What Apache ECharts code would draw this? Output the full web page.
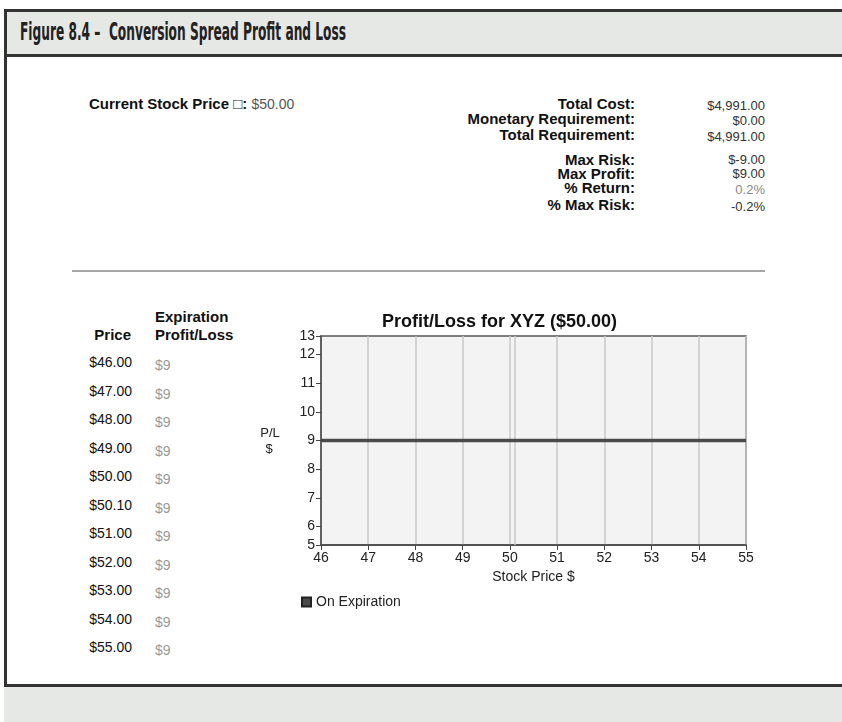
<!DOCTYPE html>
<html>
<head>
<meta charset="utf-8">
<script src="https://cdn.jsdelivr.net/npm/echarts@6/dist/echarts.min.js"></script>
<style>
  html, body { margin: 0; padding: 0; background: #fff; }
  .page { position: relative; width: 842px; height: 722px; overflow: hidden; font-family: "Liberation Sans", Arial, sans-serif; }
  .frame-left { position: absolute; left: 4px; top: 9px; width: 3px; height: 713px; background: #333; }
  .header { position: absolute; left: 4px; top: 9px; width: 850px; height: 42px; background: #e6e8e6; border-top: 3px solid #333; border-bottom: 3px solid #333; }
  .header-title { position: absolute; left: 16px; top: 6px; font-family: "Liberation Sans Narrow", "DejaVu Sans Condensed", sans-serif; font-stretch: condensed; font-weight: bold; font-size: 24px; color: #222; white-space: nowrap; transform: scaleX(0.565); transform-origin: left center; }
  .footer { position: absolute; left: 4px; top: 684px; width: 850px; height: 40px; background: #e6e8e6; border-top: 3px solid #333; }
  .t { position: absolute; white-space: nowrap; line-height: 16px; }
  .lbl { font-weight: bold; font-size: 15px; color: #111; }
  .val { font-size: 13px; color: #333; }
  .big { font-size: 14px; }
  .sep { position: absolute; left: 72px; top: 270px; width: 693px; height: 2px; background: #a6a6a6; }
  #chart { position: absolute; left: 260px; top: 300px; width: 540px; height: 320px; }
</style>
</head>
<body>
<div class="page" id="page">
  <div class="header"><div class="header-title">Figure 8.4 –&nbsp; Conversion Spread Profit and Loss</div></div>
  <div class="frame-left"></div>
  <div class="footer"></div>
  <div class="sep"></div>
  <div id="chart"></div>
</div>
<script>
// summary block
const summaryLabels = ['Total Cost:', 'Monetary Requirement:', 'Total Requirement:', 'Max Risk:', 'Max Profit:', '% Return:', '% Max Risk:'];
const summaryValues = ['$4,991.00', '$0.00', '$4,991.00', '$-9.00', '$9.00', '0.2%', '-0.2%'];
const currentPrice = '$50.00';

// price table
const tablePrices = ['$46.00', '$47.00', '$48.00', '$49.00', '$50.00', '$50.10', '$51.00', '$52.00', '$53.00', '$54.00', '$55.00'];
const tablePL = ['$9', '$9', '$9', '$9', '$9', '$9', '$9', '$9', '$9', '$9', '$9'];

// chart data
const stockPrices = [46, 47, 48, 49, 50, 50.1, 51, 52, 53, 54, 55];
const plAtExpiration = [9, 9, 9, 9, 9, 9, 9, 9, 9, 9, 9];
const xTicks = [46, 47, 48, 49, 50, 51, 52, 53, 54, 55];

const page = document.getElementById('page');
function addText(html, cls, x, y, align, color) {
  const d = document.createElement('div');
  d.className = 't ' + cls;
  d.innerHTML = html;
  d.style.top = (y - 8) + 'px';
  if (align === 'right') d.style.right = (842 - x) + 'px';
  else d.style.left = x + 'px';
  if (color) d.style.color = color;
  page.appendChild(d);
}

addText('Current Stock Price &#9633;: <span style="font-weight:normal;font-size:14px;color:#555">' + currentPrice + '</span>', 'lbl', 89, 104);

const labelY = [104, 119, 135, 160, 174, 188, 205];
const valueColors = ['#333', '#333', '#333', '#333', '#333', '#888', '#333'];
summaryLabels.forEach((s, i) => {
  addText(s, 'lbl', 635, labelY[i], 'right');
  addText(summaryValues[i], 'val', 765, labelY[i] + (i < 3 || i > 4 ? 2 : 0), 'right', valueColors[i]);
});

addText('Expiration', 'lbl', 155, 317);
addText('Profit/Loss', 'lbl', 155, 335);
addText('Price', 'lbl', 131, 335, 'right');
tablePrices.forEach((p, i) => {
  const y = 362 + i * 28.5;
  addText(p, 'val big', 132, y, 'right', '#111');
  addText(tablePL[i], 'val big', 155, y + 3, 'left', '#999');
});

const chart = echarts.init(document.getElementById('chart'));
const axisFont = { fontFamily: 'Liberation Sans, Arial, sans-serif', fontSize: 14, color: '#222' };
chart.setOption({
  animation: false,
  grid: { left: 61, top: 36, width: 425, height: 209, show: true, backgroundColor: '#f3f3f3', borderColor: '#555', borderWidth: 1.5 },
  graphic: [
    { type: 'text', left: 122, top: 13, style: { text: 'Profit/Loss for XYZ ($50.00)', font: 'bold 18px Liberation Sans, Arial, sans-serif', fill: '#111' } },
    { type: 'text', x: 10, y: 133, style: { text: 'P/L', font: '13px Liberation Sans, Arial, sans-serif', fill: '#222', align: 'center', verticalAlign: 'middle' } },
    { type: 'text', x: 9, y: 149, style: { text: '$', font: '13px Liberation Sans, Arial, sans-serif', fill: '#222', align: 'center', verticalAlign: 'middle' } }
  ],
  legend: {
    left: 36, top: 290, icon: 'rect', itemWidth: 9, itemHeight: 9, itemGap: 6,
    textStyle: axisFont,
    data: ['On Expiration']
  },
  xAxis: {
    type: 'value', min: xTicks[0], max: xTicks[xTicks.length - 1], interval: 1,
    name: 'Stock Price $', nameLocation: 'middle', nameGap: 25, nameTextStyle: axisFont,
    axisLine: { show: true, lineStyle: { color: '#444', width: 1.5 } },
    axisTick: { show: true, length: 5, lineStyle: { color: '#444' } },
    axisLabel: { ...axisFont, margin: 6 },
    splitLine: { show: true, lineStyle: { color: '#c8c8c8', width: 1.5 } }
  },
  yAxis: {
    type: 'value', min: 5.35, max: 12.65, minInterval: 1, maxInterval: 1,
    axisLine: { show: true, lineStyle: { color: '#444', width: 1.5 } },
    axisTick: { show: true, length: 5, lineStyle: { color: '#444' } },
    axisLabel: { ...axisFont, margin: 6, formatter: v => String(Math.round(v)) },
    splitLine: { show: false }
  },
  series: [{
    name: 'On Expiration',
    type: 'line',
    data: stockPrices.map((x, i) => [x, plAtExpiration[i]]),
    showSymbol: false,
    itemStyle: { color: '#4a4a4a', borderColor: '#222', borderWidth: 1 },
    lineStyle: { color: '#4a4a4a', width: 3.5 },
    z: 5,
    markLine: {
      silent: true, symbol: 'none', label: { show: false },
      lineStyle: { color: '#c8c8c8', type: 'solid', width: 1.5 },
      data: [{ xAxis: stockPrices[5] }],
      z: 1
    }
  }]
});
</script>
</body>
</html>
